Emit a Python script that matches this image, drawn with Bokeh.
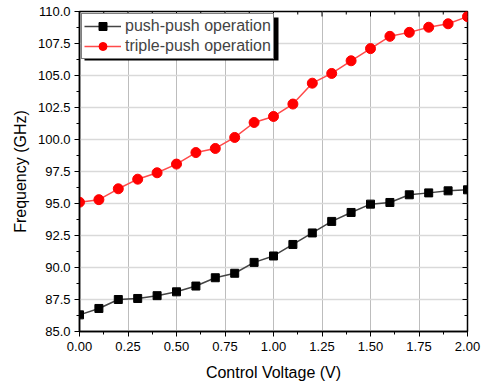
import math
from bokeh.plotting import figure
from bokeh.models import (FixedTicker, PrintfTickFormatter, Range1d, Legend,
                          LegendItem, BoxAnnotation)
from bokeh.embed import file_html
from bokeh.resources import INLINE

voltage = [0.0, 0.1, 0.2, 0.3, 0.4, 0.5, 0.6, 0.7, 0.8, 0.9, 1.0,
           1.1, 1.2, 1.3, 1.4, 1.5, 1.6, 1.7, 1.8, 1.9, 2.0]
push_push = [86.3, 86.8, 87.5, 87.58, 87.8, 88.1, 88.55, 89.2, 89.55, 90.4, 90.9,
             91.8, 92.7, 93.6, 94.3, 94.95, 95.08, 95.68, 95.83, 95.99, 96.07]
triple_push = [95.1, 95.3, 96.15, 96.9, 97.4, 98.08, 98.98, 99.3, 100.16, 101.33, 101.8,
               102.77, 104.4, 105.16, 106.15, 107.1, 108.06, 108.37, 108.77, 109.04, 109.6]
x_ticks = [0.0, 0.25, 0.5, 0.75, 1.0, 1.25, 1.5, 1.75, 2.0]
y_ticks = [85.0, 87.5, 90.0, 92.5, 95.0, 97.5, 100.0, 102.5, 105.0, 107.5, 110.0]
x_minor = [0.125 + 0.25 * i for i in range(8)]
y_minor = [86.25 + 2.5 * i for i in range(10)]
x_min, x_max = 0.0, 2.0
y_min, y_max = 85.0, 110.0

FONT = "Liberation Sans"

p = figure(frame_width=388, frame_height=320, output_backend="svg", toolbar_location=None,
           x_range=Range1d(x_min, x_max), y_range=Range1d(y_min, y_max),
           min_border_left=79, min_border_right=18, min_border_top=11, min_border_bottom=54)
p.outline_line_color = "black"
p.outline_line_width = 1.5

xt = FixedTicker(ticks=x_ticks, minor_ticks=x_minor)
yt = FixedTicker(ticks=y_ticks, minor_ticks=y_minor)

for ax in p.xaxis:
    ax.ticker = xt
    ax.formatter = PrintfTickFormatter(format="%.2f")
for ax in p.yaxis:
    ax.ticker = yt
    ax.formatter = PrintfTickFormatter(format="%.1f")

for ax in list(p.xaxis) + list(p.yaxis):
    ax.axis_line_color = "black"
    ax.axis_line_width = 1.5
    ax.major_tick_line_color = "black"
    ax.minor_tick_line_color = "black"
    ax.major_tick_in = 0
    ax.major_tick_out = 5
    ax.minor_tick_in = 0
    ax.minor_tick_out = 3
    ax.major_label_text_font = FONT
    ax.major_label_text_font_size = "13px"
    ax.major_label_text_color = "black"
    ax.axis_label_text_font = FONT
    ax.axis_label_text_font_size = "16px"
    ax.axis_label_text_font_style = "normal"
    ax.axis_label_text_color = "black"

p.xaxis.axis_label = "Control Voltage (V)"
p.yaxis.axis_label = "Frequency (GHz)"
p.xaxis.major_label_standoff = 5
p.yaxis.major_label_standoff = 4
p.xaxis.axis_label_standoff = 10
p.yaxis.axis_label_standoff = 6

p.xgrid.ticker = xt
p.ygrid.ticker = yt
p.xgrid.grid_line_color = "#bdbdbd"
p.xgrid.grid_line_width = 1
p.ygrid.grid_line_color = "#d9d9d9"
p.ygrid.grid_line_width = 1.5

# inward ticks on the top and right edges of the frame (clipped to the frame)
p.scatter(x_ticks, [y_max] * len(x_ticks), marker="dash", angle=math.pi / 2, size=10,
          line_color="black", line_width=1)
p.scatter(x_minor, [y_max] * len(x_minor), marker="dash", angle=math.pi / 2, size=6,
          line_color="black", line_width=1)
p.scatter([x_max] * len(y_ticks), y_ticks, marker="dash", size=10,
          line_color="black", line_width=1)
p.scatter([x_max] * len(y_minor), y_minor, marker="dash", size=6,
          line_color="black", line_width=1)

l1 = p.line(voltage, push_push, line_color="#444444", line_width=1.5)
s1 = p.scatter(voltage, push_push, marker="square", size=8, fill_color="black", line_color="black")
l2 = p.line(voltage, triple_push, line_color="#ff4a4a", line_width=1.5)
s2 = p.scatter(voltage, triple_push, marker="circle", size=10, fill_color="red", line_color="red")

# drop shadow behind the legend box (decoration, screen units relative to the frame)
shadow = BoxAnnotation(left=5, right=199, top=314, bottom=271,
                       left_units="screen", right_units="screen",
                       top_units="screen", bottom_units="screen",
                       fill_color="black", fill_alpha=1, line_color=None)
p.add_layout(shadow)

legend = Legend(items=[LegendItem(label="push-push operation", renderers=[l1, s1]),
                       LegendItem(label="triple-push operation", renderers=[l2, s2])],
                location="top_left", margin=2, padding=2, spacing=0,
                glyph_width=37, glyph_height=20, label_height=20, label_standoff=4,
                label_text_font=FONT, label_text_font_size="16px",
                border_line_color="black", border_line_width=1.2,
                background_fill_alpha=1)
p.add_layout(legend, "center")

open("out.html", "w").write(file_html(p, INLINE))
